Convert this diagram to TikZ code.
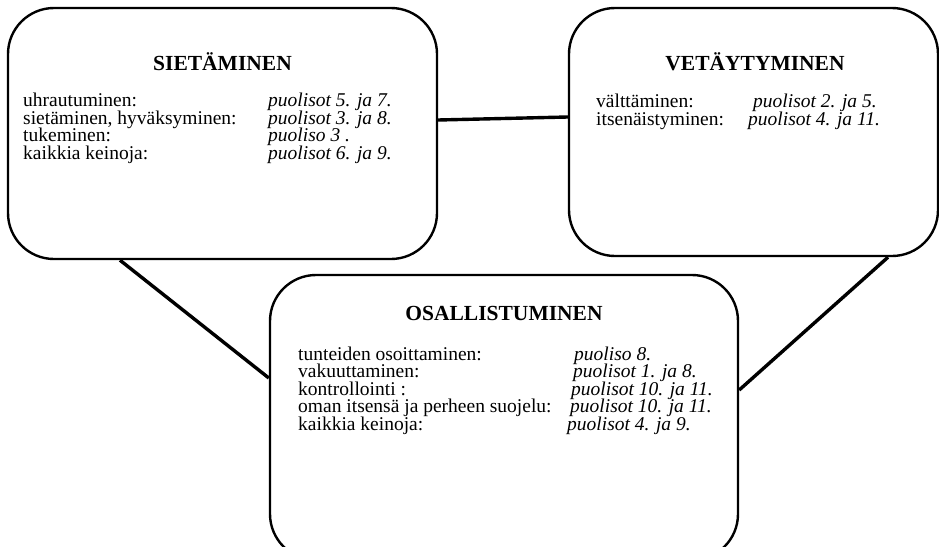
\documentclass[tikz,border=0pt]{standalone}
\usepackage{fontspec}
\setmainfont{Liberation Serif}
\usepackage{tikz}

\begin{document}
\begin{tikzpicture}[x = 1pt, y = -1pt, line width = 2.4pt,
                        box/.style = {draw, rounded corners = 46pt, inner sep = 0pt},
                        link/.style = {line width = 3.4pt},
                        head/.style = {anchor = base, font = \fontsize{21.5}{24}\selectfont\bfseries},
                        lbl/.style = {anchor = base west, inner sep = 0pt, font = \fontsize{19.5}{22}\selectfont},
                        who/.style = {anchor = base west, inner sep = 0pt, font = \fontsize{19.5}{22}\selectfont\itshape}]
        \useasboundingbox (0,0) rectangle (939,546);
        \node [box, minimum width = 429pt, minimum height = 251pt] (S) at (222.5,133.5) {};
        \node [box, minimum width = 369pt, minimum height = 248pt] (V) at (753.5,132) {};
        \node [box, minimum width = 468pt, minimum height = 285pt] (O) at (504,417.5) {};

        \node [head] (S0) at (222.5,70) {SIETÄMINEN};
        \node [lbl] (S1) at (22,106) {uhrautuminen:};                \node [who] (S1p) at (267,106) {puolisot 5. ja 7.};
        \node [lbl] (S2) at (22,124) {sietäminen, hyväksyminen:};    \node [who] (S2p) at (267,124) {puolisot 3. ja 8.};
        \node [lbl] (S3) at (22,141.5) {tukeminen:};                 \node [who] (S3p) at (267,141.5) {puoliso 3 .};
        \node [lbl] (S4) at (22,159) {kaikkia keinoja:};             \node [who] (S4p) at (267,159) {puolisot 6. ja 9.};

        \node [head] (V0) at (755,70) {VETÄYTYMINEN};
        \node [lbl] (V1) at (595,107) {välttäminen:};                \node [who] (V1p) at (752,107) {puolisot 2. ja 5.};
        \node [lbl] (V2) at (595,125) {itsenäistyminen:};            \node [who] (V2p) at (747,125) {puolisot 4. ja 11.};

        \node [head] (O0) at (504,320) {OSALLISTUMINEN};
        \node [lbl] (O1) at (297,360) {tunteiden osoittaminen:};         \node [who] (O1p) at (573,360) {puoliso 8.};
        \node [lbl] (O2) at (297,377.5) {vakuuttaminen:};                \node [who] (O2p) at (572,377.5) {puolisot 1. ja 8.};
        \node [lbl] (O3) at (297,395) {kontrollointi :};                 \node [who] (O3p) at (570,395) {puolisot 10. ja 11.};
        \node [lbl] (O4) at (297,412.5) {oman itsensä ja perheen suojelu:}; \node [who] (O4p) at (569,412.5) {puolisot 10. ja 11.};
        \node [lbl] (O5) at (297,430) {kaikkia keinoja:};                \node [who] (O5p) at (566,430) {puolisot 4. ja 9.};

        \draw [link] ([yshift = 13.5pt]S.east) -- ([yshift = 15pt]V.west);
        \draw [link] ([xshift = -102.5pt]S.south) -- ([yshift = 39.5pt]O.west);
        \draw [link] ([xshift = 134.5pt]V.south) -- ([yshift = 27.5pt]O.east);
        \end{tikzpicture}
\end{document}
